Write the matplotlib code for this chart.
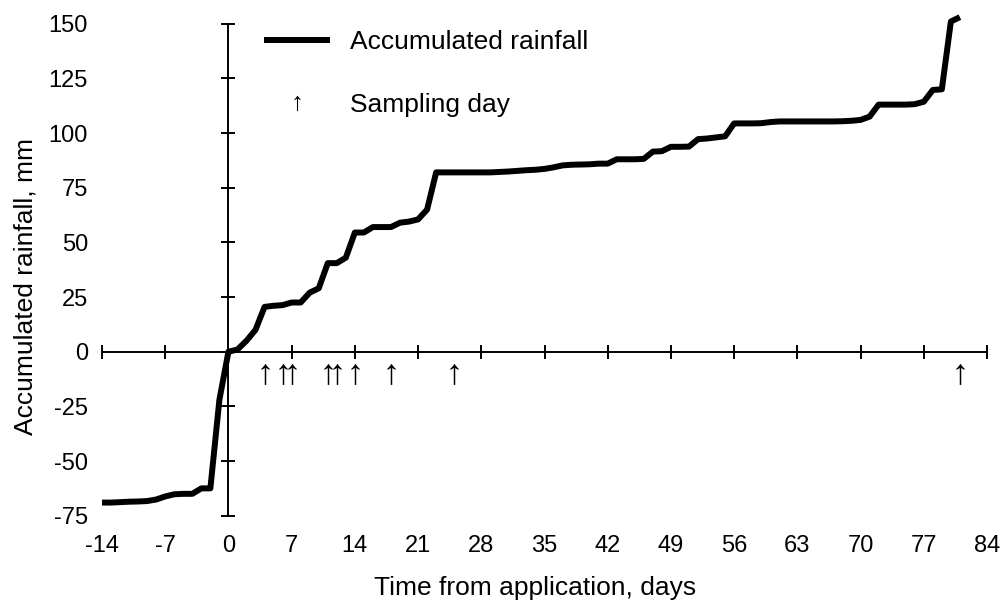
import matplotlib
matplotlib.use('Agg')
import numpy as np
import matplotlib.pyplot as plt
from matplotlib.lines import Line2D
from matplotlib.path import Path
from matplotlib.textpath import TextPath
from matplotlib.font_manager import FontProperties

plt.rcParams['font.family'] = ['Liberation Sans', 'DejaVu Sans']
plt.rcParams['axes.unicode_minus'] = False

# ---- data ----
days = list(range(-14, 82))
rain = [-69, -69, -68.8, -68.6, -68.5, -68.3, -67.6, -66.2, -65.2, -65, -65, -62.5, -62.5, -22,
        0, 1, 5, 10, 20.5, 21, 21.3, 22.5, 22.5, 27, 29, 40.5, 40.5, 43, 54.5, 54.5,
        57, 57, 57, 59, 59.5, 60.5, 65, 82, 82, 82, 82, 82, 82, 82, 82.2, 82.4,
        82.7, 83, 83.2, 83.6, 84.3, 85.2, 85.5, 85.6, 85.7, 86, 86, 88, 88, 88, 88.2,
        91.5, 91.7, 93.7, 93.7, 93.8, 97.2, 97.5, 98, 98.5, 104.4, 104.4, 104.4, 104.5,
        105, 105.3, 105.3, 105.3, 105.3, 105.3, 105.3, 105.3, 105.4, 105.6, 106, 107.5,
        113, 113, 113, 113, 113.2, 114.3, 119.7, 120, 151, 153]
assert len(rain) == len(days)
sampling_days = [4, 6, 7, 11, 12, 14, 18, 25, 81]
x_ticks = list(range(-14, 85, 7))
y_ticks = list(range(-75, 151, 25))

ARROW_Y = -10

# arrow glyph as a marker, with CLOSEPOLY vertices fixed and centred
tp = TextPath((0, 0), '\u2191', prop=FontProperties(family='Liberation Sans'))
verts = np.array(tp.vertices, dtype=float)
codes = np.array(tp.codes)
start = 0
for i, c in enumerate(codes):
    if c == Path.MOVETO:
        start = i
    elif c == Path.CLOSEPOLY:
        verts[i] = verts[start]
cx = (verts[:, 0].min() + verts[:, 0].max()) / 2
cy = (verts[:, 1].min() + verts[:, 1].max()) / 2
verts[:, 0] -= cx
verts[:, 1] -= cy
arrow_marker = Path(verts, codes)

fig = plt.figure(figsize=(10.01, 6.01), dpi=100)
pos = [102 / 1001, 1 - 515.7 / 601, (987 - 102) / 1001, (515.7 - 23.7) / 601]
ax = fig.add_axes(pos)
axf = fig.add_axes(pos, sharex=ax, sharey=ax)
axf.patch.set_visible(False)

ax.set_xlim(-14, 84)
ax.set_ylim(-75, 150)
ax.set_xticks(x_ticks)
ax.set_yticks(y_ticks)

for s in ax.spines.values():
    s.set_visible(False)
ax.tick_params(axis='x', length=0, pad=14, labelsize=17)
ax.tick_params(axis='y', length=0, pad=10, labelsize=17)

for s in ['top', 'right']:
    axf.spines[s].set_visible(False)
axf.spines['left'].set_position(('data', 0))
axf.spines['bottom'].set_position(('data', 0))
axf.spines['left'].set_linewidth(1.4)
axf.spines['bottom'].set_linewidth(1.4)
axf.tick_params(axis='both', direction='inout', length=10, width=1.4,
                labelbottom=False, labelleft=False)

ax.plot(days, rain, color='black', lw=4.3, solid_joinstyle='round',
        solid_capstyle='butt', zorder=3, clip_on=False)
ax.plot(sampling_days, [ARROW_Y] * len(sampling_days), ls='none',
        marker=arrow_marker, ms=15, color='black', mew=0, zorder=3)

ax.set_xlabel('Time from application, days', fontsize=19, va='baseline')
ax.xaxis.set_label_coords(0.5 - 9.5 / 885, (515.7 - 595) / 492)
ax.set_ylabel('Accumulated rainfall, mm', fontsize=19)
ax.yaxis.set_label_coords((38 - 102) / 885, 0.466)

h1 = Line2D([], [], color='black', lw=4.3)
h2 = Line2D([], [], ls='none', marker=arrow_marker, ms=11, mew=0, color='black')
ax.legend([h1, h2], ['Accumulated rainfall', 'Sampling day'], loc='upper left',
          bbox_to_anchor=(266.7 / 1001, 1 - 30 / 601), bbox_transform=fig.transFigure,
          frameon=False, fontsize=19, handlelength=2.27, handletextpad=0.9,
          labelspacing=1.47, borderpad=0, borderaxespad=0)

fig.savefig('out.png', dpi=100)
